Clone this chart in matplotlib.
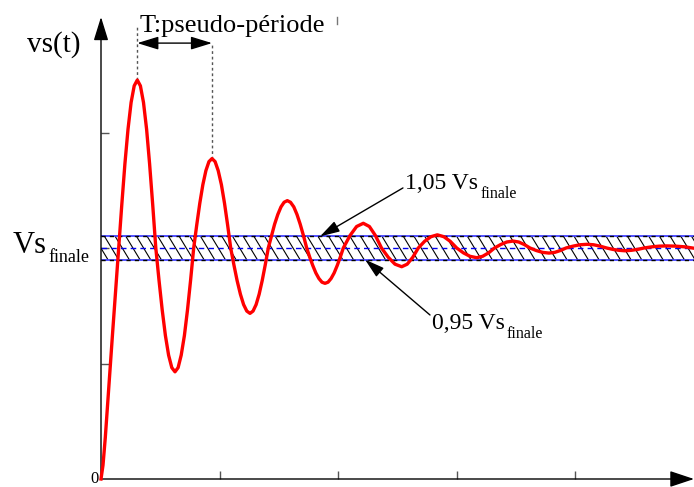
import numpy as np
import matplotlib
matplotlib.use("Agg")
import matplotlib.pyplot as plt
from matplotlib.collections import LineCollection
from matplotlib.patches import Rectangle

plt.rcParams['font.family'] = ['Liberation Serif', 'DejaVu Serif']

# réponse indicielle (t en graduations, vs en Vs finale)
t = [0, 0.0169, 0.0363, 0.0565, 0.0759, 0.0961, 0.1155, 0.1324, 0.1492,
     0.1754, 0.2015, 0.2277, 0.2538, 0.2799, 0.3061,
     0.3322, 0.3583, 0.3845, 0.4098, 0.4359, 0.4621,
     0.4890, 0.5160, 0.5430, 0.5700, 0.5970, 0.6239,
     0.6501, 0.6762, 0.7032, 0.7293, 0.7555, 0.7816,
     0.8073, 0.8331, 0.8588, 0.8845, 0.9102, 0.9359,
     0.9620, 0.9882, 1.0152, 1.0413, 1.0675, 1.0936,
     1.1206, 1.1476, 1.1754, 1.2024, 1.2293, 1.2563,
     1.2820, 1.3078, 1.3335, 1.3592, 1.3849, 1.4106,
     1.4376, 1.4638, 1.4907, 1.5177, 1.5439, 1.5708,
     1.5978, 1.6256, 1.6526, 1.6796, 1.7074, 1.7344,
     1.7601, 1.7858, 1.8116, 1.8373, 1.8630, 1.8887,
     1.9144, 1.9401, 1.9659, 1.9916, 2.0173, 2.0430,
     2.0995, 2.1552, 2.2116, 2.2631, 2.3137, 2.3651,
     2.4216, 2.4789, 2.5354, 2.5818, 2.6290, 2.6754,
     2.7285, 2.7825, 2.8356, 2.8904, 2.9444, 2.9992,
     3.0557, 3.1113, 3.1678, 3.2176, 3.2681, 3.3179,
     3.3702, 3.4216, 3.4739, 3.5219, 3.5691, 3.6172,
     3.6703, 3.7243, 3.7774, 3.8255, 3.8727, 3.9207,
     3.9798, 4.0388, 4.0978, 4.1535, 4.2082, 4.2639,
     4.3153, 4.3668, 4.4182, 4.4713, 4.5253, 4.5784,
     4.6425, 4.7058, 4.7698, 4.8466, 4.9233, 5.0000]
vs = [0, 0.06, 0.18, 0.33, 0.47, 0.62, 0.76, 0.88, 1.0,
      1.188, 1.364, 1.514, 1.630, 1.702, 1.727,
      1.702, 1.630, 1.514, 1.364, 1.188, 1.0,
      0.861, 0.732, 0.621, 0.536, 0.482, 0.464,
      0.482, 0.536, 0.621, 0.732, 0.861, 1.0,
      1.100, 1.194, 1.274, 1.335, 1.374, 1.387,
      1.374, 1.335, 1.274, 1.194, 1.100, 1.0,
      0.927, 0.859, 0.800, 0.755, 0.727, 0.717,
      0.727, 0.755, 0.800, 0.859, 0.927, 1.0,
      1.053, 1.103, 1.145, 1.178, 1.198, 1.205,
      1.198, 1.178, 1.145, 1.103, 1.053, 1.0,
      0.960, 0.924, 0.892, 0.868, 0.852, 0.847,
      0.852, 0.868, 0.892, 0.924, 0.960, 1.0,
      1.054, 1.093, 1.107, 1.093, 1.054, 1.0,
      0.960, 0.930, 0.919, 0.930, 0.960, 1.0,
      1.029, 1.049, 1.057, 1.049, 1.029, 1.0,
      0.979, 0.964, 0.958, 0.964, 0.979, 1.0,
      1.015, 1.026, 1.030, 1.026, 1.015, 1.0,
      0.989, 0.981, 0.978, 0.981, 0.989, 1.0,
      1.008, 1.014, 1.016, 1.014, 1.008, 1.0,
      0.994, 0.990, 0.988, 0.990, 0.994, 1.0,
      1.005, 1.008, 1.009, 1.008, 1.005, 0.999]

vs_finale = 1.0
bande = [0.95, 1.05]
pics = [(0.3061, 1.727), (0.9359, 1.387)]   # pics utilisés pour T
x_ticks = [1, 2, 3, 4]
y_ticks = [0.5, 1.0, 1.5]

fig = plt.figure(figsize=(6.94, 4.87), dpi=100)
ax = fig.add_axes([101/694, 8/487, 593/694, 462/487])
ax.set_xlim(0, 5)
ax.set_ylim(0, 2)
for s in ax.spines.values():
    s.set_visible(False)
ax.set_xticks(x_ticks)
ax.set_yticks(y_ticks)
ax.tick_params(direction='in', length=6, width=1, color='#555555',
               labelbottom=False, labelleft=False)

# bande +/- 5 %
cadre = Rectangle((0, bande[0]), 5, bande[1]-bande[0], transform=ax.transData,
                  fill=False, edgecolor='none')
ax.add_patch(cadre)
debuts = np.arange(-0.15, 5.0, 0.09)
hach = LineCollection([[(d, bande[1]), (d + 0.118, bande[0])] for d in debuts],
                      colors='black', linewidths=0.8, zorder=2)
hach.set_clip_path(cadre)
ax.add_collection(hach)
for yb in bande:
    ax.plot([0, 5], [yb, yb], color='#3333ff', lw=1.2, zorder=3)
    ax.plot([0, 5], [yb, yb], color='black', lw=1, ls=(0, (3, 3)), zorder=3)
ax.plot([0, 5], [vs_finale, vs_finale], color='#0000ee', lw=1, ls=(0, (4, 3)), zorder=3)

# axes avec flèches
ax.annotate('', xy=(0, 2.0), xytext=(0, 0), annotation_clip=False,
            arrowprops=dict(arrowstyle='-|>,head_length=1.45,head_width=0.45',
                            color='black', lw=1, mutation_scale=10,
                            shrinkA=0, shrinkB=0))
ax.annotate('', xy=(5.0, 0), xytext=(0, 0), annotation_clip=False,
            arrowprops=dict(arrowstyle='-|>,head_length=1.5,head_width=0.5',
                            color='black', lw=1, mutation_scale=10,
                            shrinkA=0, shrinkB=0))

# courbe
ax.plot(t, vs, color='red', lw=2.4, zorder=5, clip_on=False,
        solid_joinstyle='round')

# pseudo-période
ax.plot([pics[0][0]]*2, [pics[0][1], 1.965], color='#555555', lw=1, ls=(0, (2, 2)))
ax.plot([pics[1][0]]*2, [pics[1][1], 1.887], color='#555555', lw=1, ls=(0, (2, 2)))
ax.annotate('', xy=(pics[1][0], 1.887), xytext=(pics[0][0], 1.887),
            arrowprops=dict(arrowstyle='<|-|>,head_length=1.3,head_width=0.4',
                            color='black', lw=1, mutation_scale=10,
                            shrinkA=0, shrinkB=0))
ax.text(0.329, 1.935, 'T:pseudo-période', fontsize=19, ha='left', va='baseline')
ax.plot([1.99, 1.99], [1.97, 2.0], color='#777777', lw=1, clip_on=False)

# textes
ax.text(-0.624, 1.848, 'vs(t)', fontsize=21, ha='left', va='baseline')
ax.text(-0.742, 0.978, 'Vs', fontsize=22, ha='left', va='baseline')
ax.text(-0.447, 0.939, 'finale', fontsize=13, ha='left', va='baseline')
fig.text(95/694, 0.0, '0', fontsize=12, ha='center', va='bottom')

ax.text(2.563, 1.255, '1,05 Vs', fontsize=17, ha='left', va='baseline')
ax.text(3.204, 1.216, 'finale', fontsize=11.5, ha='left', va='baseline')
ax.annotate('', xy=(1.8465, bande[1]), xytext=(2.546, 1.260),
            arrowprops=dict(arrowstyle='-|>,head_length=1.2,head_width=0.35',
                            color='black', lw=1, mutation_scale=10,
                            shrinkA=0, shrinkB=0), zorder=6)

ax.text(2.791, 0.649, '0,95 Vs', fontsize=17, ha='left', va='baseline')
ax.text(3.423, 0.610, 'finale', fontsize=11.5, ha='left', va='baseline')
ax.annotate('', xy=(2.226, bande[0]), xytext=(2.774, 0.710),
            arrowprops=dict(arrowstyle='-|>,head_length=1.2,head_width=0.35',
                            color='black', lw=1, mutation_scale=10,
                            shrinkA=0, shrinkB=0), zorder=6)

fig.savefig('out.png', dpi=100)
